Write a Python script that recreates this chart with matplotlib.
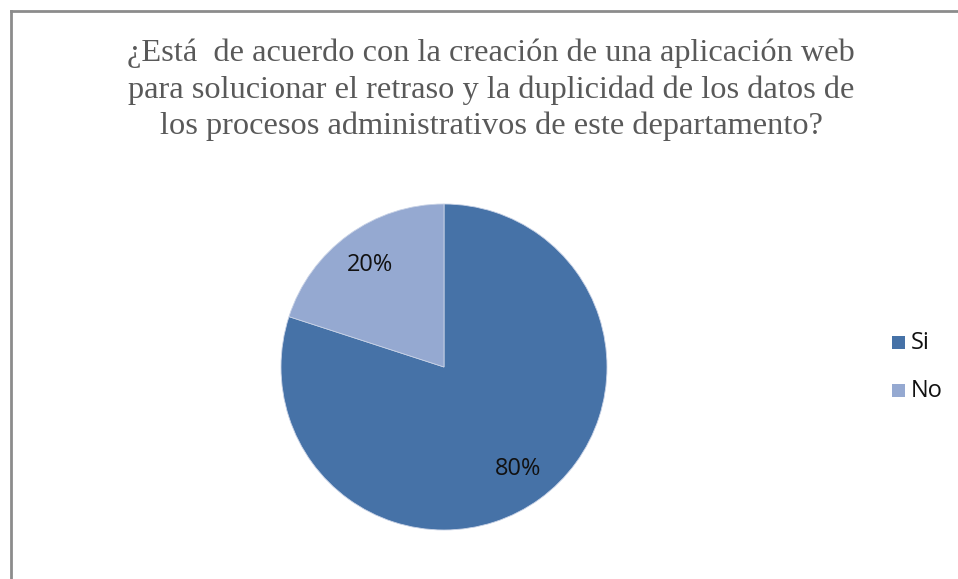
import matplotlib
matplotlib.use("Agg")
import matplotlib.pyplot as plt
from matplotlib.patches import Rectangle
from matplotlib.lines import Line2D

categories = ["Si", "No"]
values = [80, 20]
colors = ["#4672A7", "#95A9D1"]
title = ("¿Está  de acuerdo con la creación de una aplicación web\n"
         "para solucionar el retraso y la duplicidad de los datos de\n"
         "los procesos administrativos de este departamento?")

W, H = 958, 579
fig = plt.figure(figsize=(W / 100, H / 100), dpi=100)
fig.patch.set_facecolor("white")

# border (left and top)
fig.add_artist(Line2D([10.5 / W, 10.5 / W], [0, 1 - 10.5 / H], transform=fig.transFigure,
                      color="#8C8C8C", lw=2))
fig.add_artist(Line2D([10.5 / W, 1], [1 - 10.5 / H, 1 - 10.5 / H], transform=fig.transFigure,
                      color="#8C8C8C", lw=2))

fig.text(491 / W, 1 - 90 / H, title, ha="center", va="center", family="Liberation Serif",
         fontsize=23.3, color="#595959", linespacing=1.3)

cx, cy, r = 444, 367, 163
ax = fig.add_axes([(cx - r) / W, (H - cy - r) / H, 2 * r / W, 2 * r / H])
wedges, texts, autotexts = ax.pie(values, colors=colors, startangle=90, counterclock=False,
                                  autopct="%d%%", pctdistance=0.77,
                                  wedgeprops=dict(linewidth=0.6, edgecolor="#C8D2E6"),
                                  textprops=dict(fontsize=17, color="#111111",
                                                 family="Open Sans"))
ax.set_xlim(-1, 1)
ax.set_ylim(-1, 1)
ax.axis("off")

# legend
for i, (cat, col) in enumerate(zip(categories, colors)):
    y = 343 + i * 48
    fig.add_artist(Rectangle(((892) / W, 1 - (y + 6) / H), 13 / W, 13 / H,
                             transform=fig.transFigure, facecolor=col, edgecolor="none"))
    fig.text(911 / W, 1 - y / H, cat, ha="left", va="center", fontsize=17,
             family="Open Sans", color="#111111")

fig.savefig("out.png", dpi=100)
